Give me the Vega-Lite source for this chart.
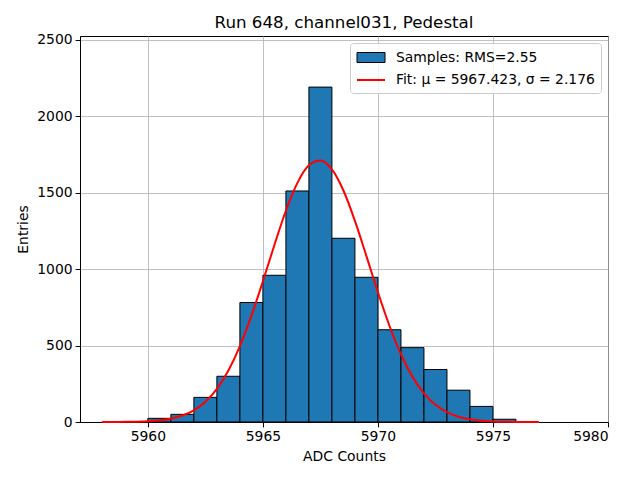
{
  "$schema": "https://vega.github.io/schema/vega-lite/v6.json",
  "width": 528,
  "height": 386,
  "autosize": {"type": "none"},
  "padding": {"left": 80, "top": 36, "right": 32, "bottom": 58},
  "background": "white",
  "config": {
    "font": "DejaVu Sans",
    "view": {"stroke": "black", "strokeWidth": 1},
    "axis": {
      "labelFont": "DejaVu Sans",
      "titleFont": "DejaVu Sans",
      "labelFontSize": 13.9,
      "titleFontSize": 13.9,
      "titleFontWeight": "normal",
      "labelColor": "black",
      "titleColor": "black",
      "domainColor": "black",
      "tickColor": "black",
      "tickSize": 4.9,
      "labelPadding": 3,
      "gridColor": "#b0b0b0",
      "gridWidth": 0.8,
      "zindex": 1
    },
    "legend": {
      "orient": "top-right",
      "offset": 7,
      "padding": 6,
      "labelFontSize": 13.9,
      "labelFont": "DejaVu Sans",
      "labelColor": "black",
      "labelOffset": 22,
      "rowPadding": 6,
      "symbolSize": 256,
      "symbolOpacity": 1,
      "strokeColor": "#cccccc",
      "cornerRadius": 3,
      "fillColor": "rgba(255,255,255,0.8)",
      "labelLimit": 400
    }
  },
  "title": {
    "text": "Run 648, channel031, Pedestal",
    "font": "DejaVu Sans",
    "fontSize": 16.7,
    "fontWeight": "normal",
    "color": "black",
    "offset": 1
  },
  "datasets": {
    "hist": [
      {"lo": 5960, "hi": 5961, "count": 24},
      {"lo": 5961, "hi": 5962, "count": 50},
      {"lo": 5962, "hi": 5963, "count": 161},
      {"lo": 5963, "hi": 5964, "count": 299},
      {"lo": 5964, "hi": 5965, "count": 781},
      {"lo": 5965, "hi": 5966, "count": 959},
      {"lo": 5966, "hi": 5967, "count": 1510},
      {"lo": 5967, "hi": 5968, "count": 2189},
      {"lo": 5968, "hi": 5969, "count": 1201},
      {"lo": 5969, "hi": 5970, "count": 946},
      {"lo": 5970, "hi": 5971, "count": 603},
      {"lo": 5971, "hi": 5972, "count": 486},
      {"lo": 5972, "hi": 5973, "count": 343},
      {"lo": 5973, "hi": 5974, "count": 208},
      {"lo": 5974, "hi": 5975, "count": 102},
      {"lo": 5975, "hi": 5976, "count": 18}
    ],
    "fit": [
      {"adc": 5958, "y": 0.14},
      {"adc": 5958.5, "y": 0.38},
      {"adc": 5959, "y": 0.95},
      {"adc": 5959.5, "y": 2.26},
      {"adc": 5960, "y": 5.08},
      {"adc": 5960.5, "y": 10.8},
      {"adc": 5961, "y": 21.9},
      {"adc": 5961.5, "y": 42.1},
      {"adc": 5962, "y": 76.6},
      {"adc": 5962.5, "y": 132.3},
      {"adc": 5963, "y": 216.7},
      {"adc": 5963.5, "y": 336.7},
      {"adc": 5964, "y": 496.2},
      {"adc": 5964.5, "y": 693.7},
      {"adc": 5965, "y": 919.8},
      {"adc": 5965.5, "y": 1157.2},
      {"adc": 5966, "y": 1380.8},
      {"adc": 5966.5, "y": 1563},
      {"adc": 5967, "y": 1678},
      {"adc": 5967.5, "y": 1709},
      {"adc": 5968, "y": 1651},
      {"adc": 5968.5, "y": 1513},
      {"adc": 5969, "y": 1315},
      {"adc": 5969.5, "y": 1084},
      {"adc": 5970, "y": 848},
      {"adc": 5970.5, "y": 629},
      {"adc": 5971, "y": 442.9},
      {"adc": 5971.5, "y": 295.7},
      {"adc": 5972, "y": 187.2},
      {"adc": 5972.5, "y": 112.4},
      {"adc": 5973, "y": 64.1},
      {"adc": 5973.5, "y": 34.6},
      {"adc": 5974, "y": 17.8},
      {"adc": 5974.5, "y": 8.6},
      {"adc": 5975, "y": 3.98},
      {"adc": 5975.5, "y": 1.74},
      {"adc": 5976, "y": 0.72},
      {"adc": 5976.5, "y": 0.28},
      {"adc": 5977, "y": 0.11}
    ],
    "keys": [
      {"series": "Samples: RMS=2.55"},
      {"series": "Fit: μ = 5967.423, σ = 2.176"}
    ]
  },
  "layer": [
    {
      "data": {"name": "hist"},
      "mark": {"type": "bar", "fill": "#1f77b4", "stroke": "black", "strokeWidth": 1, "opacity": 1},
      "encoding": {
        "x": {
          "field": "lo",
          "type": "quantitative",
          "title": "ADC Counts",
          "scale": {"domain": [5957.05, 5980], "nice": false, "zero": false},
          "axis": {"values": [5960, 5965, 5970, 5975, 5980], "format": "d", "titlePadding": 6}
        },
        "x2": {"field": "hi"},
        "y": {
          "field": "count",
          "type": "quantitative",
          "title": "Entries",
          "scale": {"domain": [0, 2523], "nice": false},
          "axis": {"values": [0, 500, 1000, 1500, 2000, 2500], "format": "d", "titlePadding": 6}
        },
        "y2": {"datum": 0}
      }
    },
    {
      "data": {"name": "fit"},
      "mark": {"type": "line", "stroke": "#ff0000", "strokeWidth": 2, "interpolate": "monotone"},
      "encoding": {
        "x": {"field": "adc", "type": "quantitative"},
        "y": {"field": "y", "type": "quantitative"}
      }
    },
    {
      "data": {"name": "keys"},
      "mark": {"type": "point", "opacity": 0},
      "encoding": {
        "fill": {
          "field": "series",
          "type": "nominal",
          "title": null,
          "scale": {
            "domain": ["Samples: RMS=2.55", "Fit: μ = 5967.423, σ = 2.176"],
            "range": ["#1f77b4", "transparent"]
          }
        },
        "stroke": {
          "field": "series",
          "type": "nominal",
          "title": null,
          "scale": {
            "domain": ["Samples: RMS=2.55", "Fit: μ = 5967.423, σ = 2.176"],
            "range": ["black", "#ff0000"]
          }
        },
        "shape": {
          "field": "series",
          "type": "nominal",
          "title": null,
          "scale": {
            "domain": ["Samples: RMS=2.55", "Fit: μ = 5967.423, σ = 2.176"],
            "range": ["M-1,-0.625H2.5V0.625H-1Z", "M-1,0H2.5"]
          }
        },
        "strokeWidth": {
          "field": "series",
          "type": "nominal",
          "title": null,
          "scale": {
            "domain": ["Samples: RMS=2.55", "Fit: μ = 5967.423, σ = 2.176"],
            "range": [1, 2]
          }
        }
      }
    }
  ]
}
